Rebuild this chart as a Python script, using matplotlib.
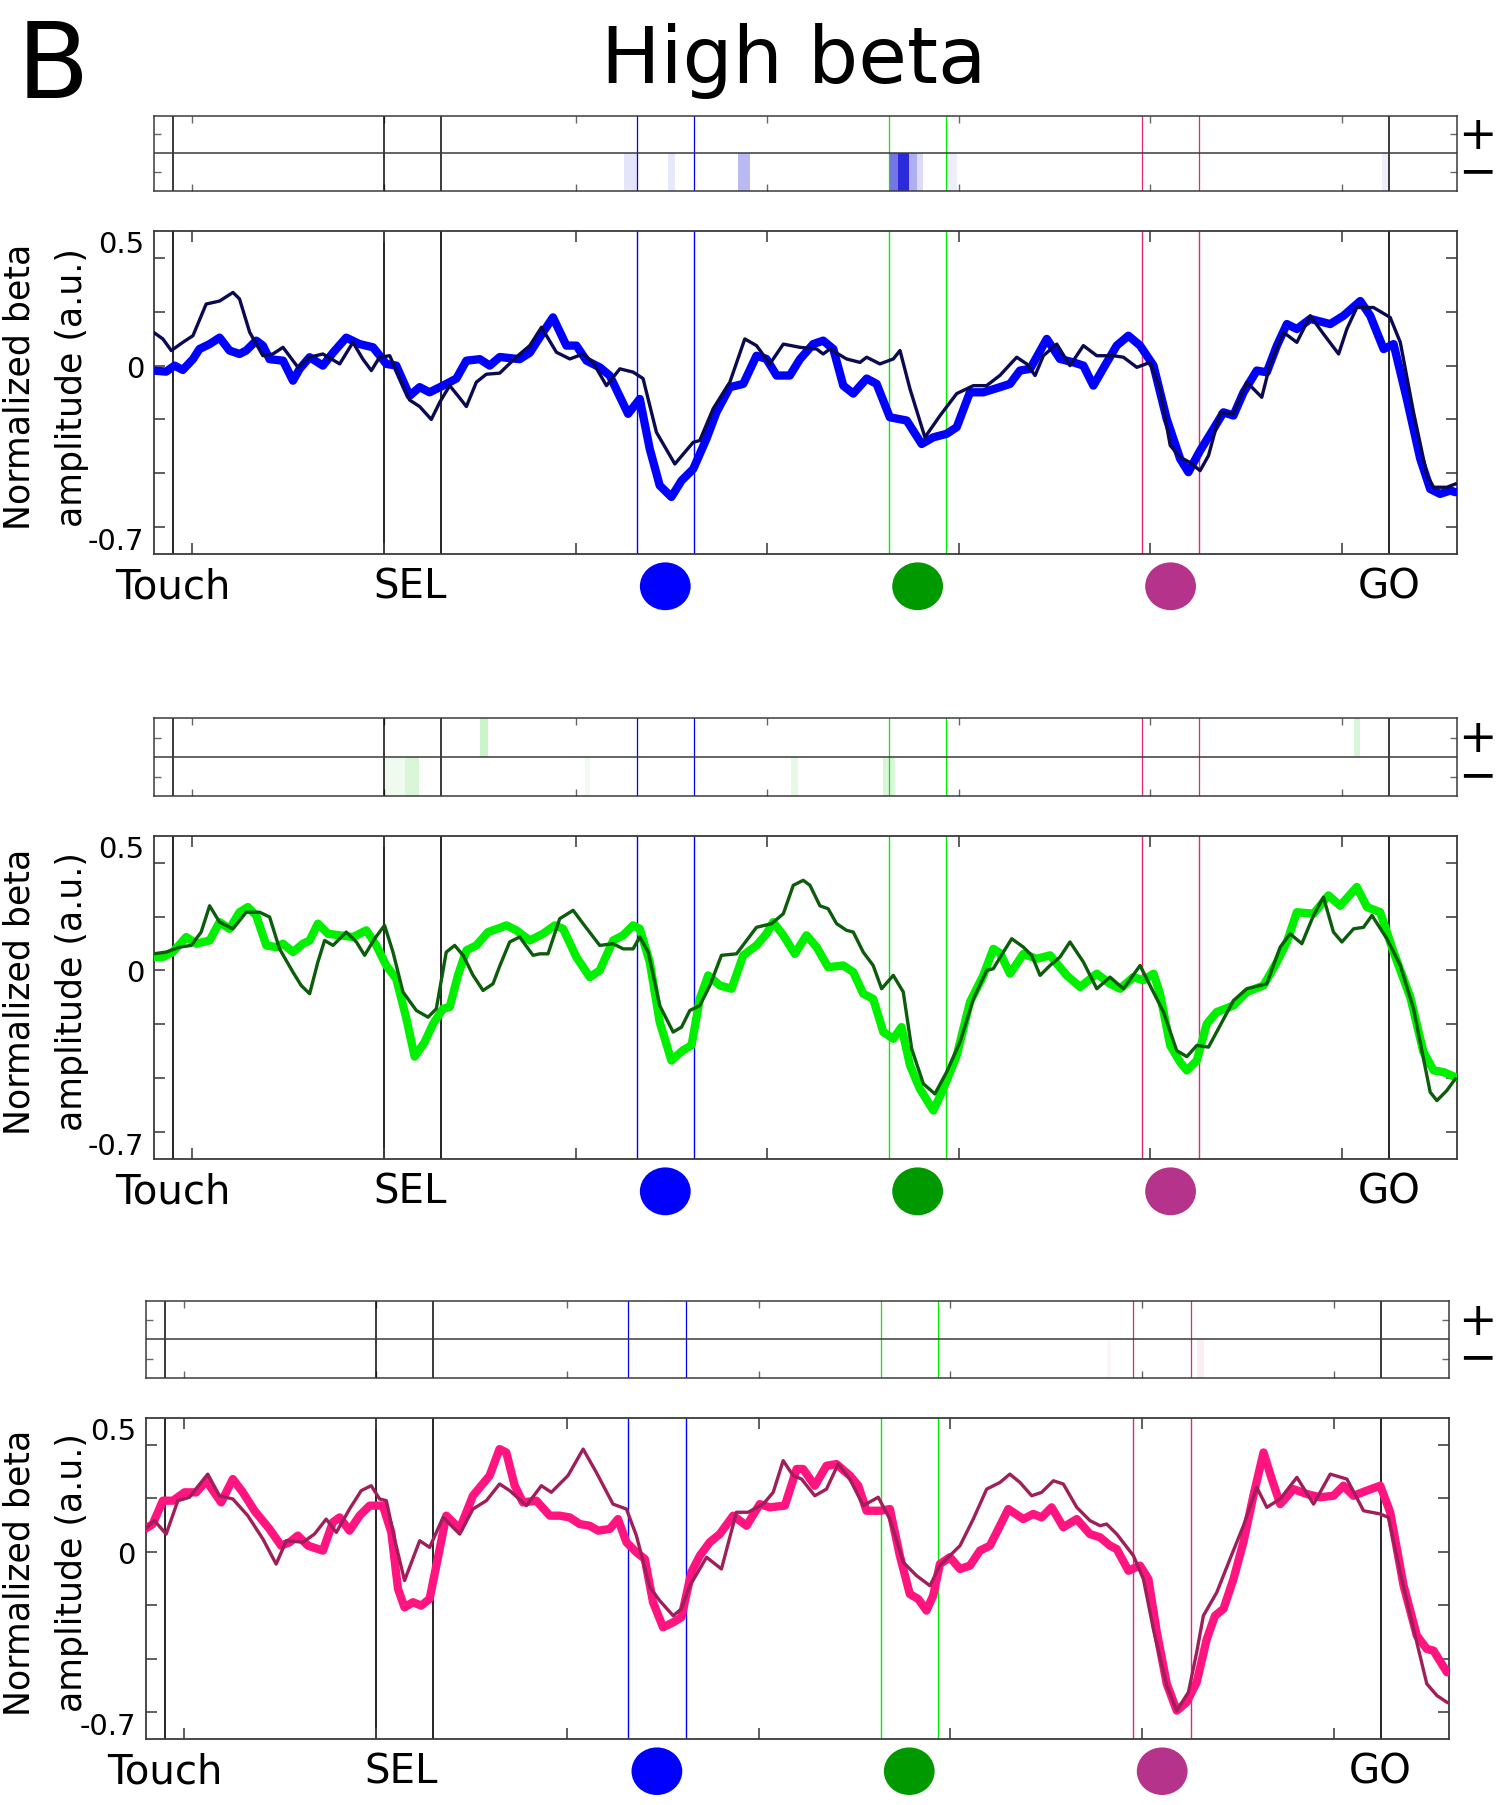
import numpy as np
import matplotlib
matplotlib.use("Agg")
import matplotlib.pyplot as plt
from matplotlib.colors import LinearSegmentedColormap
from matplotlib.patches import Ellipse
from matplotlib.transforms import blended_transform_factory

plt.rcParams['font.family'] = ['DejaVu Sans']

# ---------------- text / axes ----------------
TITLE = "High beta"
PANEL_LETTER = "B"
YLABEL = "Normalized beta\namplitude (a.u.)"
YTICKS = [0.5, 0.25, 0, -0.25, -0.5, -0.75]
YTICKLABELS = ["0.5", "", "0", "", "", "-0.7"]
XTICKS = [-1000, 0, 1000, 2000, 3000, 4000, 5000]
XLIM = (-1200, 5600)
YLIM = (-0.875, 0.625)
SIGN_LABELS = "+\n\u2212"

# ---------------- events (ms, relative to SEL) ----------------
TOUCH = -1100
SEL = (0, 300)
CUE_BLUE = (1318, 1618)
CUE_GREEN = (2635, 2935)
CUE_MAGENTA = (3955, 4255)
GO = 5245

# ---------------- curves (time ms, normalized amplitude) ----------------
P1_THICK = [(-1203,-0.023),(-1137,-0.028),(-1093,0),(-1050,-0.02),(-997,0.03),(-963,0.077),(-910,0.10),(-858,0.13),(-806,0.07),(-754,0.054),
            (-719,0.07),(-667,0.116),(-632,0.093),(-597,0.03),(-527,0.023),(-475,-0.07),(-440,-0.015),(-388,0.039),(-319,0),(-266,0.06),
            (-197,0.13),(-127,0.10),(-57,0.085),(12,0.008),(64,0),(134,-0.14),(186,-0.10),(238,-0.124),(308,-0.093),(378,-0.06),
            (430,0.023),(500,0.03),(552,0),(604,0.04),
            (708,0.03),(761,0.06),(830,0.155),(882,0.224),(952,0.093),(1004,0.093),(1057,0.023),(1126,-0.008),(1178,-0.046),(1274,-0.224),
            (1335,-0.155),(1387,-0.387),(1439,-0.557),(1500,-0.61),(1553,-0.534),(1614,-0.48),(1683,-0.34),(1735,-0.217),(1805,-0.10),(1875,-0.085),
            (1944,0.046),(1996,0.031),(2049,-0.046),(2118,-0.046),(2171,0.03),(2240,0.10),(2292,0.116),(2345,0.077),(2397,-0.093),(2449,-0.13),
            (2519,-0.06),(2571,-0.085),(2640,-0.24),(2728,-0.255),(2806,-0.364),(2867,-0.333),(2936,-0.317),(2989,-0.286),(3058,-0.124),(3128,-0.124),
            (3215,-0.1),
            (3267,-0.085),(3319,-0.023),(3372,-0.015),(3459,0.124),(3528,0.031),(3598,0.015),(3650,0),(3702,-0.093),(3772,0.015),(3824,0.093),
            (3885,0.139),(3946,0.093),(4016,0),(4085,-0.248),(4155,-0.433),(4198,-0.495),(4259,-0.395),(4329,-0.294),(4381,-0.217),(4433,-0.232),
            (4486,-0.124),(4555,-0.023),(4607,-0.031),(4660,0.093),(4712,0.193),(4764,0.17),(4834,0.217),(4938,0.193),(5008,0.232),(5095,0.30),
            (5147,0.232),(5217,0.077),(5269,0.10),(5338,-0.155),(5408,-0.433),(5460,-0.573),(5512,-0.596),(5565,-0.58),(5591,-0.588)]

P1_THIN = [(-1203,0.155),(-1154,0.124),(-1110,0.07),(-1050,0.108),(-997,0.139),(-928,0.286),(-858,0.30),(-788,0.34),(-754,0.31),(-701,0.155),
           (-632,0.046),(-580,0.054),(-527,0.085),(-449,-0.008),(-388,0.039),(-319,0.054),(-231,0.008),(-162,0.108),(-110,0.03),(-66,-0.023),
           (-23,0.039),(30,0.046),(82,-0.06),(134,-0.16),(186,-0.19),(247,-0.25),(291,-0.17),(343,-0.093),(386,-0.14),(430,-0.19),
           (482,-0.077),(534,-0.04),(604,-0.035),
           (691,0.04),(761,0.093),(822,0.178),(900,0.062),(970,0.031),(1039,0.054),(1091,0.015),(1161,-0.093),(1231,-0.015),(1300,-0.03),
           (1352,-0.06),(1422,-0.31),(1518,-0.457),(1614,-0.356),(1648,-0.348),(1718,-0.20),(1805,-0.077),(1883,0.124),(1944,0.093),(2014,0.008),
           (2084,0.10),(2171,0.085),(2258,0.077),(2292,0.054),(2327,0.077),(2414,0.031),(2484,0.015),(2519,0.039),(2588,0.008),(2658,0.031),
           (2693,0.07),(2745,-0.108),(2823,-0.333),(2902,-0.232),(2989,-0.13),(3076,-0.093),(3145,-0.093),(3215,-0.045),
           (3302,0.039),(3354,0.008),(3398,-0.046),(3441,0.046),(3511,0.10),(3580,0),(3650,0.093),(3720,0.046),(3807,0.046),(3859,0.039),
           (3929,-0.008),(3998,0.015),(4050,-0.108),(4103,-0.37),(4155,-0.426),(4207,-0.45),(4259,-0.488),(4303,-0.418),(4364,-0.217),(4433,-0.224),
           (4503,-0.077),(4581,-0.147),(4625,0.008),(4694,0.155),(4764,0.108),(4834,0.232),(4903,0.147),(4982,0.054),(5025,0.17),(5077,0.27),
           (5164,0.27),(5251,0.224),(5304,0.108),(5373,-0.217),(5443,-0.51),(5478,-0.565),(5547,-0.565),(5591,-0.55)]

P2_THICK = [(-1203,0.062),(-1154,0.062),(-1102,0.085),(-1032,0.155),(-980,0.124),(-910,0.139),(-858,0.224),(-806,0.193),(-754,0.27),(-710,0.294),
            (-667,0.255),(-614,0.116),(-562,0.108),(-527,0.124),(-475,0.085),(-423,0.124),(-388,0.139),(-345,0.217),(-292,0.17),(-231,0.163),
            (-162,0.155),(-92,0.186),(-40,0.116),(12,0.023),(64,-0.039),(117,-0.224),(160,-0.40),(212,-0.333),(256,-0.248),(308,-0.178),
            (343,-0.17),(386,-0.023),(430,0.093),(482,0.116),(543,0.178),(604,0.197),
            (639,0.209),(691,0.186),(761,0.139),(830,0.17),(891,0.209),(935,0.193),(1004,0.062),(1074,-0.031),(1126,0),(1196,0.139),
            (1248,0.163),(1300,0.209),(1335,0.193),(1387,0.039),(1439,-0.24),(1500,-0.418),(1561,-0.37),(1605,-0.348),(1648,-0.132),(1692,-0.023),
            (1753,-0.07),(1814,-0.085),(1875,0.07),(1944,0.116),(1996,0.17),(2031,0.224),(2084,0.163),(2144,0.077),(2205,0.163),(2258,0.108),
            (2318,0.015),(2397,0.023),(2449,-0.008),(2501,-0.108),(2553,-0.132),(2606,-0.286),(2658,-0.317),(2701,-0.263),(2745,-0.44),(2797,-0.55),
            (2867,-0.65),(2919,-0.55),(2989,-0.395),(3058,-0.147),(3128,-0.023),(3180,0.10),(3215,0.08),
            (3267,-0.015),(3337,0.077),(3406,0.054),(3476,0.07),(3563,-0.023),(3633,-0.077),(3720,-0.015),(3789,-0.062),(3842,-0.085),(3911,-0.031),
            (3963,-0.046),(4016,-0.015),(4050,-0.108),(4103,-0.348),(4155,-0.426),(4190,-0.464),(4242,-0.418),(4294,-0.248),(4346,-0.193),(4433,-0.163),
            (4503,-0.10),(4590,-0.07),(4660,0.039),(4712,0.132),(4764,0.27),(4851,0.263),(4929,0.348),(4990,0.30),(5077,0.387),(5130,0.294),
            (5199,0.27),(5269,0.085),(5356,-0.124),(5425,-0.379),(5478,-0.464),(5530,-0.472),(5591,-0.495)]

P2_THIN = [(-1203,0.077),(-1137,0.085),(-1067,0.108),(-1006,0.116),(-954,0.178),(-910,0.30),(-858,0.224),(-788,0.193),(-719,0.27),(-649,0.27),
           (-597,0.248),(-545,0.10),(-475,-0.008),(-432,-0.07),(-388,-0.108),(-345,0.039),(-310,0.139),(-266,0.116),(-197,0.178),(-144,0.132),
           (-101,0.07),(-49,0.147),(3,0.209),(47,0.085),(99,-0.10),(169,-0.186),(230,-0.217),(273,-0.178),(325,0.085),(369,0.116),
           (413,0.07),(465,-0.023),(517,-0.093),(569,-0.062),(604,0.02),
           (656,0.132),(708,0.155),(778,0.07),(813,0.077),(856,0.077),(917,0.24),(987,0.279),(1039,0.217),(1126,0.116),(1196,0.124),
           (1248,0.10),(1300,0.10),(1335,0.155),(1379,0.085),(1439,-0.163),(1509,-0.286),(1553,-0.263),(1596,-0.186),(1648,-0.163),(1701,-0.07),
           (1761,0.07),(1840,0.077),(1944,0.20),(2023,0.217),(2084,0.263),(2136,0.395),(2188,0.418),(2223,0.395),(2275,0.30),(2318,0.286),
           (2362,0.217),(2414,0.186),(2449,0.178),(2501,0.085),(2553,0.023),(2597,-0.085),(2658,-0.023),(2710,-0.10),(2754,-0.364),(2815,-0.526),
           (2875,-0.573),(2936,-0.472),(3006,-0.333),(3076,-0.132),(3145,0),(3180,0.008),(3215,0.06),
           (3276,0.147),(3337,0.108),(3380,0.07),(3424,-0.023),(3476,0.023),(3528,0.062),(3580,0.132),(3650,0.039),(3720,-0.085),(3789,-0.031),
           (3859,-0.085),(3946,0.023),(3998,-0.07),(4068,-0.193),(4137,-0.372),(4190,-0.40),(4242,-0.348),(4303,-0.356),(4364,-0.255),(4433,-0.14),
           (4503,-0.085),(4607,-0.062),(4677,0.108),(4729,0.17),(4790,0.124),(4851,0.255),(4903,0.34),(4955,0.178),(4999,0.132),(5060,0.193),
           (5112,0.20),(5156,0.255),(5234,0.147),(5304,0.023),(5373,-0.178),(5425,-0.41),(5460,-0.565),(5495,-0.604),(5547,-0.557),(5591,-0.503)]

P3_THICK = [(-1203,0.106),(-1163,0.129),(-1110,0.238),(-1058,0.238),(-997,0.277),(-936,0.277),(-884,0.331),(-806,0.23),(-745,0.339),(-693,0.277),
            (-632,0.191),(-554,0.106),(-493,0.028),(-449,0.044),(-406,0.075),(-353,0.028),(-275,0.005),(-223,0.137),(-188,0.16),(-136,0.098),
            (-84,0.168),(-31,0.215),(38,0.215),(82,0.09),(117,-0.174),(151,-0.26),(195,-0.236),(238,-0.252),(282,-0.22),(317,-0.065),
            (369,0.168),(439,0.106),(508,0.261),(595,0.355),(647,0.479),
            (682,0.463),(726,0.308),(769,0.23),(839,0.238),(909,0.168),(961,0.168),(1013,0.16),(1065,0.129),(1117,0.121),(1161,0.098),
            (1222,0.106),(1265,0.152),(1309,0.044),(1361,-0.003),(1405,-0.034),(1448,-0.236),(1500,-0.353),(1553,-0.33),(1596,-0.306),(1648,-0.096),
            (1692,-0.019),(1744,0.044),(1796,0.082),(1866,0.168),(1936,0.121),(2005,0.222),(2057,0.207),(2136,0.215),(2197,0.386),(2231,0.386),
            (2292,0.308),(2353,0.401),(2405,0.409),(2475,0.355),(2519,0.308),(2562,0.191),(2632,0.191),(2684,0.199),(2736,-0.019),(2788,-0.198),
            (2832,-0.221),(2875,-0.275),(2910,-0.205),(2945,-0.058),(2997,-0.026),(3050,-0.081),(3102,-0.065),(3154,0.005),(3206,0.028),(3258,0.12),
            (3302,0.199),(3380,0.152),(3432,0.176),(3476,0.16),(3528,0.207),(3589,0.114),(3659,0.152),(3728,0.082),(3781,0.067),(3833,0.028),
            (3868,0.012),(3929,-0.089),(3989,-0.065),(4033,-0.128),(4077,-0.376),(4129,-0.617),(4181,-0.742),(4233,-0.703),(4285,-0.61),(4338,-0.407),
            (4381,-0.299),(4425,-0.267),(4477,-0.128),(4529,0.044),(4581,0.261),(4634,0.463),(4677,0.339),(4721,0.222),(4790,0.292),(4860,0.269),
            (4929,0.254),(4999,0.261),(5051,0.308),(5103,0.261),(5173,0.285),(5243,0.308),(5295,0.184),(5365,-0.159),(5434,-0.392),(5486,-0.454),
            (5521,-0.462),(5591,-0.563)]

P3_THIN = [(-1203,0.106),(-1154,0.145),(-1093,0.082),(-1032,0.238),(-971,0.254),(-876,0.362),(-815,0.261),(-745,0.246),(-667,0.168),(-588,0.059),
           (-519,-0.058),(-466,0.051),(-379,0.044),(-319,0.082),(-258,0.152),(-205,0.09),(-136,0.199),(-75,0.285),(-23,0.308),(21,0.246),
           (56,0.238),(99,0.059),(151,-0.135),(230,0.051),(282,0.02),(352,0.16),(439,0.082),(508,0.199),(578,0.238),(647,0.316),
           (700,0.285),(787,0.215),(865,0.308),(917,0.277),(1004,0.355),(1083,0.479),(1152,0.37),(1239,0.222),(1309,0.199),(1361,0.075),
           (1431,-0.166),(1483,-0.229),(1553,-0.299),(1596,-0.267),(1640,-0.159),(1727,-0.026),(1805,-0.081),(1883,0.184),(1944,0.184),(2023,0.222),
           (2075,0.277),(2127,0.425),(2179,0.355),(2223,0.339),(2292,0.261),(2353,0.292),(2414,0.409),(2475,0.339),(2545,0.215),(2623,0.254),
           (2684,0.152),(2754,-0.05),(2823,-0.112),(2893,-0.159),(2945,-0.065),(2997,-0.019),(3050,0.028),(3119,0.152),(3189,0.292),(3258,0.323),
           (3310,0.362),(3363,0.323),(3424,0.261),(3476,0.277),(3537,0.331),(3589,0.316),(3659,0.207),(3728,0.145),(3781,0.121),(3815,0.129),
           (3868,0.082),(3955,-0.019),(4007,-0.128),(4059,-0.361),(4129,-0.625),(4181,-0.742),(4242,-0.656),(4285,-0.47),(4320,-0.299),(4390,-0.19),
           (4459,-0.034),(4529,0.121),(4599,0.30),(4651,0.207),(4721,0.246),(4808,0.347),(4895,0.222),(4982,0.362),(5069,0.339),(5156,0.191),
           (5243,0.176),(5286,0.16),(5347,-0.096),(5417,-0.361),(5486,-0.617),(5539,-0.672),(5591,-0.703)]

# ---------------- significance strips: (row: 1='+', 0='-', t_start, t_end, level) ----------------
P1_HEAT = [(0,1257,1318,0.12),(0,1483,1518,0.1),(0,1849,1909,0.3),(0,2640,2684,0.6),(0,2684,2740,0.92),
           (0,2740,2780,0.35),(0,2780,2815,0.15),(0,2936,2989,0.08),(0,5208,5243,0.08)]
P2_HEAT = [(1,500,543,0.2),(1,5060,5095,0.15),(0,3,110,0.06),(0,110,186,0.15),(0,1048,1074,0.07),
           (0,2127,2162,0.1),(0,2606,2667,0.15)]
P3_HEAT = [(0,3815,3833,0.04),(0,4285,4320,0.08)]

# ---------------- styling ----------------
W, H = 1497, 1806
fig = plt.figure(figsize=(W/100, H/100), dpi=100)

SPINE = '#3a3a3a'
EVENT_LINES = [(TOUCH, 'black', 1.2), (SEL[0], 'black', 1.2), (SEL[1], 'black', 1.2),
               (CUE_BLUE[0], '#0000ff', 1.0), (CUE_BLUE[1], '#0000ff', 1.0),
               (CUE_GREEN[0], '#00ee00', 1.0), (CUE_GREEN[1], '#00ee00', 1.0),
               (CUE_MAGENTA[0], '#dd2a78', 1.0), (CUE_MAGENTA[1], '#dd2a78', 1.0),
               (GO, 'black', 1.2)]

panels = [
    dict(heat=[0.1029, 0.8937, 0.8704, 0.0417], main=[0.1029, 0.6927, 0.8704, 0.1788],
         thick=P1_THICK, thin=P1_THIN, c_thick='#0000ff', c_thin='#0a0a50',
         heat_data=P1_HEAT, heat_color='#1a1ad8'),
    dict(heat=[0.1029, 0.5585, 0.8704, 0.0434], main=[0.1029, 0.3577, 0.8704, 0.1790],
         thick=P2_THICK, thin=P2_THIN, c_thick='#00f000', c_thin='#0b5c0b',
         heat_data=P2_HEAT, heat_color='#00c800'),
    dict(heat=[0.0973, 0.2363, 0.8704, 0.0430], main=[0.0973, 0.0365, 0.8704, 0.1779],
         thick=P3_THICK, thin=P3_THIN, c_thick='#ff1480', c_thin='#a01e5a',
         heat_data=P3_HEAT, heat_color='#e0206a'),
]

bin_edges = np.arange(XLIM[0], XLIM[1] + 5, 5)
bin_centers = (bin_edges[:-1] + bin_edges[1:]) / 2

for p in panels:
    # ---- significance strip ----
    hax = fig.add_axes(p['heat'])
    grid = np.zeros((2, len(bin_centers)))
    for row, t0, t1, lev in p['heat_data']:
        grid[row, (bin_centers >= t0) & (bin_centers < t1)] = lev
    cmap = LinearSegmentedColormap.from_list('c', ['white', p['heat_color']])
    hax.imshow(grid, extent=[XLIM[0], XLIM[1], 0, 2], origin='lower', aspect='auto',
               cmap=cmap, vmin=0, vmax=1, interpolation='nearest', zorder=0)
    hax.set_xlim(*XLIM)
    hax.set_ylim(0, 2)
    hax.axhline(1, color=SPINE, lw=1.1, zorder=3)
    for t, c, lw in EVENT_LINES:
        hax.axvline(t, color=c, lw=lw * 0.9, zorder=2)
    hax.set_xticks(XTICKS)
    hax.set_xticklabels([])
    hax.set_yticks([0.5, 1.5])
    hax.set_yticklabels([])
    hax.tick_params(direction='in', length=5, width=1.0, color='#666666',
                    top=True, right=True)
    for s in hax.spines.values():
        s.set_color(SPINE)
        s.set_linewidth(1.1)
    tr = blended_transform_factory(fig.transFigure, hax.transData)
    hax.text(1477 / W, 1.0, SIGN_LABELS, transform=tr, ha='center', va='center',
             fontsize=33, linespacing=0.76)

    # ---- main amplitude plot ----
    ax = fig.add_axes(p['main'])
    for t, c, lw in EVENT_LINES:
        ax.axvline(t, color=c, lw=lw, zorder=1)
    tk, vk = np.array(p['thick']).T
    tn, vn = np.array(p['thin']).T
    ax.plot(tk, vk, color=p['c_thick'], lw=6.0, solid_capstyle='round',
            solid_joinstyle='round', zorder=3)
    ax.plot(tn, vn, color=p['c_thin'], lw=2.4, solid_joinstyle='round', zorder=4)
    ax.set_xlim(*XLIM)
    ax.set_ylim(*YLIM)
    ax.set_xticks(XTICKS)
    ax.set_xticklabels([])
    ax.set_yticks(YTICKS)
    ax.set_yticklabels(YTICKLABELS)
    ax.tick_params(direction='in', length=8, width=1.2, color='#444444',
                   top=True, right=True, labelsize=21, pad=7)
    labs = ax.get_yticklabels()
    labs[0].set_va('bottom')
    labs[-1].set_va('top')
    for s in ax.spines.values():
        s.set_color(SPINE)
        s.set_linewidth(1.3)
    ax.set_ylabel(YLABEL, fontsize=25, linespacing=1.7)
    left_px = p['main'][0] * W
    width_px = p['main'][2] * W
    ax.yaxis.set_label_coords((89 - left_px) / width_px, 0.52)

    # ---- event markers under the axis ----
    btr = blended_transform_factory(ax.transData, ax.transAxes)
    ax.text(TOUCH, -0.10, 'Touch', transform=btr, ha='center', va='center', fontsize=29)
    ax.text(np.mean(SEL) - 15, -0.10, 'SEL', transform=btr, ha='center', va='center', fontsize=29)
    ax.text(GO, -0.10, 'GO', transform=btr, ha='center', va='center', fontsize=29)
    for cue, col in [(CUE_BLUE, '#0000ff'), (CUE_GREEN, '#009900'), (CUE_MAGENTA, '#b5338a')]:
        e = Ellipse((np.mean(cue), -0.10), width=265, height=0.148, transform=btr,
                    facecolor=col, edgecolor='none', clip_on=False)
        ax.add_patch(e)

fig.text(794 / W, 1 - 83 / H, TITLE, ha='center', va='baseline', fontsize=57)
fig.text(53 / W, 1 - 98 / H, PANEL_LETTER, ha='center', va='baseline', fontsize=76)

fig.savefig('out.png', dpi=100)
